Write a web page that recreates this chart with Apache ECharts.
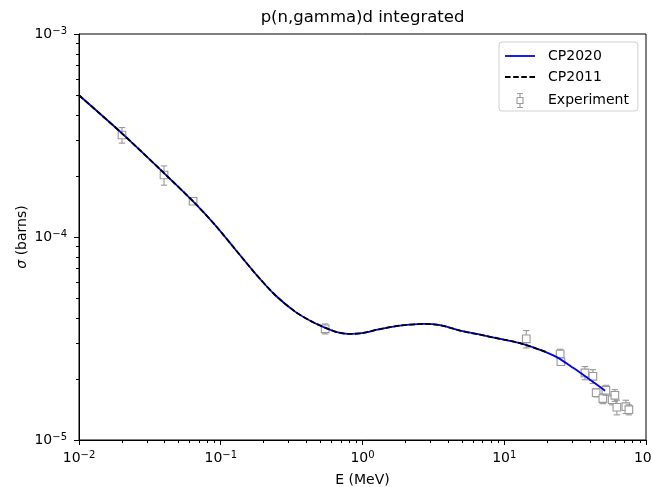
<!DOCTYPE html>
<html>
<head>
<meta charset="utf-8">
<script src="https://cdn.jsdelivr.net/npm/echarts@6/dist/echarts.min.js"></script>
<style>
  html, body { margin: 0; padding: 0; background: #ffffff; }
  #chart { width: 652px; height: 487px; }
</style>
</head>
<body>
<div id="chart"></div>
<script>
const FONT = 'DejaVu Sans';
const EXP_COLOR = '#999999';

// CP2020 evaluation: neutron energy (MeV) and integrated cross section (barns)
const cp2020E = [0.01, 0.02, 0.0398, 0.0659, 0.0912, 0.126, 0.1746, 0.2417, 0.3345, 0.463,
                 0.641, 0.791, 0.989, 1.33, 1.84, 2.69, 3.53, 4.89, 6.76, 9.35,
                 12.9, 17.9, 23.5, 30.8, 40.3, 51.5];
const cp2020S = [4.99e-4, 3.25e-4, 2.065e-4, 1.465e-4, 1.146e-4, 8.73e-5, 6.63e-5, 5.18e-5, 4.29e-5, 3.76e-5,
                 3.42e-5, 3.33e-5, 3.36e-5, 3.52e-5, 3.66e-5, 3.73e-5, 3.68e-5, 3.46e-5, 3.30e-5, 3.15e-5,
                 3.00e-5, 2.78e-5, 2.56e-5, 2.26e-5, 1.98e-5, 1.75e-5];

// CP2011 evaluation (covers up to 20 MeV)
const cp2011E = [0.01, 0.02, 0.0398, 0.0659, 0.0912, 0.126, 0.1746, 0.2417, 0.3345, 0.463,
                 0.641, 0.791, 0.989, 1.33, 1.84, 2.69, 3.53, 4.89, 6.76, 9.35,
                 12.9, 17.9, 20.4];
const cp2011S = [4.99e-4, 3.25e-4, 2.065e-4, 1.465e-4, 1.146e-4, 8.73e-5, 6.63e-5, 5.18e-5, 4.29e-5, 3.76e-5,
                 3.42e-5, 3.33e-5, 3.36e-5, 3.52e-5, 3.66e-5, 3.73e-5, 3.68e-5, 3.46e-5, 3.30e-5, 3.15e-5,
                 3.00e-5, 2.78e-5, 2.69e-5];

// Measured points with one-sigma uncertainties
const expE   = [0.0201, 0.0398, 0.0638, 0.545, 14.3, 24.8, 25.1, 37.1, 42.2, 44.5,
                49.6, 52.1, 57.7, 60.3, 62.3, 72.1, 75.7];
const expS   = [3.18e-4, 2.02e-4, 1.50e-4, 3.53e-5, 3.15e-5, 2.65e-5, 2.43e-5, 2.14e-5, 2.06e-5, 1.71e-5,
                1.60e-5, 1.76e-5, 1.58e-5, 1.66e-5, 1.45e-5, 1.46e-5, 1.41e-5];
const expErr = [0.28e-4, 0.22e-4, 0.05e-4, 0.2e-5, 0.31e-5, 0.15e-5, 0.1e-5, 0.16e-5, 0.16e-5, 0.08e-5,
                0.09e-5, 0.1e-5, 0.09e-5, 0.11e-5, 0.12e-5, 0.11e-5, 0.08e-5];

// Log-axis minor tick layout
const minorMult = [2, 3, 4, 5, 6, 7, 8, 9];
const xDecades = [0.01, 0.1, 1, 10];
const yDecades = [1e-5, 1e-4];
const X_MIN = 0.01, X_MAX = 100, Y_MIN = 1e-5, Y_MAX = 1e-3;

const pairs = (xs, ys) => xs.map((x, i) => [x, ys[i]]);

function powLabel(v) {
  const p = Math.round(Math.log10(v));
  return '{b|10}{s|' + String(p).replace('-', '\u2212') + '}';
}
const labelRich = {
  b: { fontSize: 14, fontFamily: FONT, color: '#000', lineHeight: 15, verticalAlign: 'bottom' },
  s: { fontSize: 10, fontFamily: FONT, color: '#000', lineHeight: 15, verticalAlign: 'top' }
};

function renderErrorBar(params, api) {
  const e = api.value(0), s = api.value(1), d = api.value(2);
  const c = api.coord([e, s]);
  const hi = api.coord([e, s + d]);
  const lo = api.coord([e, s - d]);
  const half = 3.8, cap = 3.2;
  const st = { stroke: EXP_COLOR, lineWidth: 1.1, fill: null };
  return {
    type: 'group',
    children: [
      { type: 'line', shape: { x1: c[0], y1: hi[1], x2: c[0], y2: lo[1] }, style: st },
      { type: 'line', shape: { x1: c[0] - cap, y1: hi[1], x2: c[0] + cap, y2: hi[1] }, style: st },
      { type: 'line', shape: { x1: c[0] - cap, y1: lo[1], x2: c[0] + cap, y2: lo[1] }, style: st },
      { type: 'rect', shape: { x: c[0] - half, y: c[1] - half, width: 2 * half, height: 2 * half },
        style: { stroke: EXP_COLOR, lineWidth: 1.1, fill: '#ffffff' } }
    ]
  };
}

// Outward minor ticks at 2..9 x each decade, positioned through the log axes
function renderMinorTicks(params, api) {
  const children = [];
  const st = { stroke: '#000', lineWidth: 1 };
  xDecades.forEach(d => minorMult.forEach(m => {
    const p = api.coord([d * m, Y_MIN]);
    const x = Math.round(p[0]) + 0.5;
    children.push({ type: 'line', shape: { x1: x, y1: p[1], x2: x, y2: p[1] + 3 }, style: st });
  }));
  yDecades.forEach(d => minorMult.forEach(m => {
    const p = api.coord([X_MIN, d * m]);
    const y = Math.round(p[1]) + 0.5;
    children.push({ type: 'line', shape: { x1: p[0] - 3, y1: y, x2: p[0], y2: y }, style: st });
  }));
  return { type: 'group', children: children };
}

// legend swatches: a solid bar and a dashed bar
const solidIcon = 'path://M0,0L30,0L30,1.8L0,1.8Z';
const dashedIcon = 'path://M0,0h5.5v1.8h-5.5zM8,0h5.5v1.8h-5.5zM16,0h5.5v1.8h-5.5zM24,0h5.5v1.8h-5.5z';

const chart = echarts.init(document.getElementById('chart'), null, { renderer: 'canvas' });
chart.setOption({
  animation: false,
  backgroundColor: '#ffffff',
  title: {
    text: 'p(n,gamma)d integrated',
    left: 362.5, top: 9, textAlign: 'center', padding: 0,
    textStyle: { fontFamily: FONT, fontSize: 16.5, fontWeight: 'normal', color: '#000' }
  },
  grid: {
    left: 79, top: 34, right: 6, bottom: 47, outerBoundsMode: 'none',
    show: true, borderColor: '#000', borderWidth: 1, backgroundColor: 'transparent'
  },
  legend: {
    orient: 'vertical', left: 499, top: 42,
    padding: [7, 9, 1, 6],
    itemWidth: 30, itemHeight: 14, itemGap: 7,
    backgroundColor: 'rgba(255,255,255,0.8)', borderColor: '#d0d0d0', borderWidth: 1, borderRadius: 3,
    textStyle: { fontFamily: FONT, fontSize: 14, color: '#000', padding: [0, 0, 0, 8] },
    data: [
      { name: 'CP2020', icon: solidIcon, itemStyle: { color: '#0000ff', borderWidth: 0 } },
      { name: 'CP2011', icon: dashedIcon, itemStyle: { color: '#000000', borderWidth: 0 } },
      { name: 'Experiment',
        icon: 'path://M2,0L8,0M5,0L5,4M2,4L8,4L8,10L2,10L2,4M5,10L5,14M2,14L8,14',
        itemStyle: { color: 'none', borderColor: EXP_COLOR, borderWidth: 1.1 } }
    ]
  },
  xAxis: {
    type: 'log', logBase: 10, min: X_MIN, max: X_MAX,
    name: 'E (MeV)', nameLocation: 'middle', nameGap: 33, nameMoveOverlap: false,
    nameTextStyle: { fontFamily: FONT, fontSize: 14, color: '#000' },
    axisLine: { show: true, lineStyle: { color: '#000', width: 1 } },
    axisTick: { show: true, inside: false, length: 5, lineStyle: { color: '#000', width: 1 } },
    axisLabel: { margin: 10, formatter: powLabel, rich: labelRich, color: '#000' },
    splitLine: { show: false },
    minorTick: { show: false }
  },
  yAxis: {
    type: 'log', logBase: 10, min: Y_MIN, max: Y_MAX,
    name: '{i|\u03c3} (barns)', nameLocation: 'middle', nameGap: 50, nameMoveOverlap: false,
    nameTextStyle: { fontFamily: FONT, fontSize: 14, color: '#000',
      rich: { i: { fontFamily: FONT, fontSize: 14, fontStyle: 'italic', color: '#000' } } },
    axisLine: { show: true, lineStyle: { color: '#000', width: 1 } },
    axisTick: { show: true, inside: false, length: 5, lineStyle: { color: '#000', width: 1 } },
    axisLabel: { margin: 12, formatter: powLabel, rich: labelRich, color: '#000' },
    splitLine: { show: false },
    minorTick: { show: false }
  },
  series: [
    {
      name: 'Experiment', type: 'custom', z: 2, silent: true,
      itemStyle: { color: EXP_COLOR },
      renderItem: renderErrorBar,
      data: expE.map((e, i) => [e, expS[i], expErr[i]])
    },
    {
      name: 'CP2020', type: 'line', z: 3, symbol: 'none', smooth: 0.25, silent: true,
      color: '#0000ff',
      lineStyle: { color: '#0000ff', width: 1.8 },
      data: pairs(cp2020E, cp2020S)
    },
    {
      name: 'CP2011', type: 'line', z: 4, symbol: 'none', smooth: 0.25, silent: true,
      color: '#000000',
      lineStyle: { color: '#000000', width: 1.8, type: [5.5, 2.4] },
      data: pairs(cp2011E, cp2011S)
    },
    {
      name: 'minor ticks', type: 'custom', z: 5, silent: true, clip: false,
      renderItem: renderMinorTicks,
      data: [[1, 1e-4]]
    }
  ]
});
</script>
</body>
</html>
